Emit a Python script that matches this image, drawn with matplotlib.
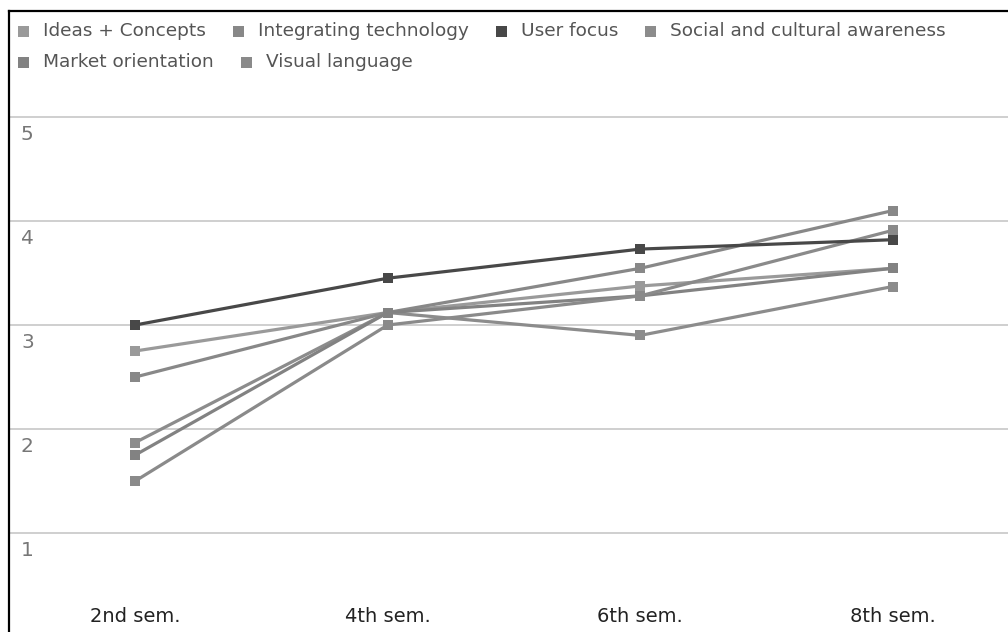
import matplotlib
matplotlib.use("Agg")
import matplotlib.pyplot as plt
from matplotlib.lines import Line2D
from matplotlib.patches import Rectangle

# Semesters on the x axis
semesters = ["2nd sem.", "4th sem.", "6th sem.", "8th sem."]

# Average self-assessment scores per competence
ideas_concepts = [2.75, 3.12, 3.375, 3.545]
integrating_technology = [2.5, 3.12, 3.545, 4.10]
user_focus = [3.0, 3.45, 3.73, 3.82]
social_cultural = [1.87, 3.12, 2.90, 3.37]
market_orientation = [1.75, 3.12, 3.28, 3.545]
visual_language = [1.5, 3.0, 3.28, 3.91]

series_names = ["Ideas + Concepts", "Integrating technology", "User focus",
                "Social and cultural awareness", "Market orientation",
                "Visual language"]
series_values = [ideas_concepts, integrating_technology, user_focus,
                 social_cultural, market_orientation, visual_language]
series_colors = ["#9a9a9a", "#888888", "#484848", "#8c8c8c", "#828282", "#8a8a8a"]

y_ticks = [1, 2, 3, 4, 5]

W, H, DPI = 1008, 632, 100
fig = plt.figure(figsize=(W / DPI, H / DPI), dpi=DPI)
fig.patch.set_facecolor("white")

# Plot area in pixel terms (axes may extend past the right edge)
left_px, right_px = 9, 1019
top_px, bottom_px = 95, 585
ax = fig.add_axes([left_px / W, 1 - bottom_px / H,
                   (right_px - left_px) / W, (bottom_px - top_px) / H])
ax.set_facecolor("none")
ax.set_xlim(-0.5, len(semesters) - 0.5)
ax.set_ylim(0.5, 5.2115)
for s in ax.spines.values():
    s.set_visible(False)

ax.set_yticks(y_ticks)
ax.yaxis.grid(True, color="#cccccc", linewidth=1.3)
ax.set_axisbelow(True)
ax.tick_params(axis="y", length=0, labelleft=False)
for t in y_ticks:
    ax.annotate(str(t), xy=(0, t), xycoords=("axes fraction", "data"),
                xytext=(12, -8), textcoords="offset pixels",
                ha="left", va="top", fontsize=14.5, color="#777777")

ax.set_xticks(range(len(semesters)))
ax.set_xticklabels(semesters, fontsize=14, color="#222222")
ax.tick_params(axis="x", length=0, pad=16)

x = list(range(len(semesters)))
order = [0, 1, 3, 4, 5, 2]
for i in order:
    ax.plot(x, series_values[i], color=series_colors[i], linewidth=2.3,
            marker="s", markersize=7, markeredgewidth=0, zorder=3 + (i == 2))

# Legend laid out as a flowing row of entries
fig.canvas.draw()
renderer = fig.canvas.get_renderer()
row_y = [31, 62]
rows = [[0, 1, 2, 3], [4, 5]]
sq = 11
for r, idxs in enumerate(rows):
    xpos = 18
    for i in idxs:
        yc = row_y[r]
        fig.patches.append(Rectangle((xpos / W, 1 - (yc + sq / 2) / H), sq / W, sq / H,
                                     transform=fig.transFigure, facecolor=series_colors[i],
                                     edgecolor="none"))
        t = fig.text((xpos + sq + 14) / W, 1 - yc / H, series_names[i], fontsize=13.3,
                     color="#555555", ha="left", va="center")
        bb = t.get_window_extent(renderer)
        xpos = xpos + sq + 14 + bb.width + 27

# Frame lines along the top and left edges
fig.lines.append(Line2D([9 / W, 9 / W], [0, 1 - 11 / H], transform=fig.transFigure,
                        color="black", linewidth=1.6))
fig.lines.append(Line2D([9 / W, 1], [1 - 11 / H, 1 - 11 / H], transform=fig.transFigure,
                        color="black", linewidth=1.6))

fig.savefig("out.png", dpi=DPI, facecolor="white")
